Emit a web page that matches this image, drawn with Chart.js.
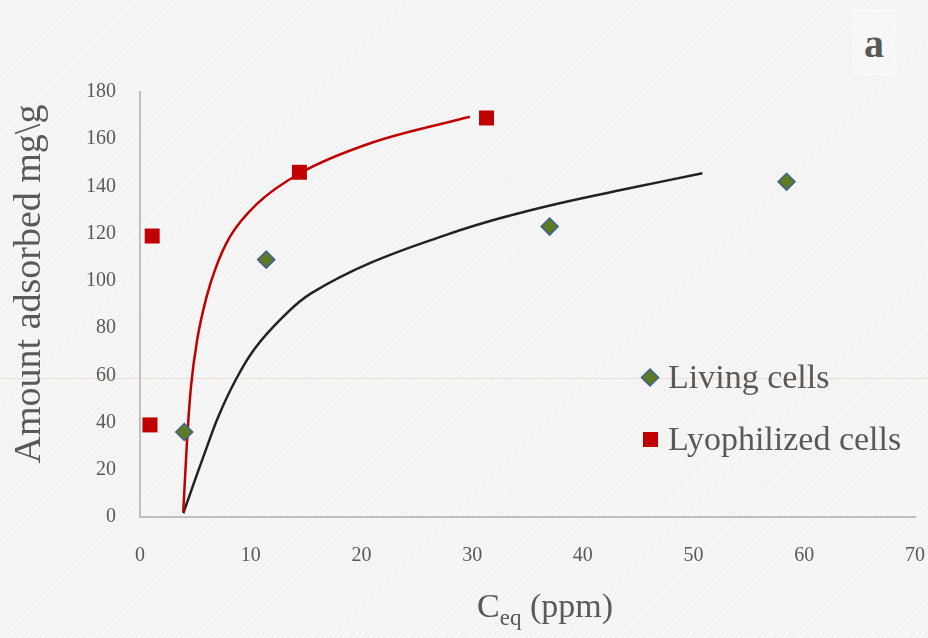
<!DOCTYPE html>
<html>
<head>
<meta charset="utf-8">
<script src="https://cdn.jsdelivr.net/npm/chart.js@4.4.1/dist/chart.umd.min.js"></script>
<style>
  html, body { margin: 0; padding: 0; }
  body {
    width: 928px; height: 638px; overflow: hidden; position: relative;
    background-color: #f3f3f3;
    background-image: repeating-linear-gradient(135deg, rgba(255,255,255,0.55) 0 1px, rgba(255,255,255,0) 1px 4px);
    font-family: "Liberation Serif", "DejaVu Serif", serif;
  }
  #wrap { position: absolute; left: 0; top: 0; width: 928px; height: 638px; }
  #stripe { position: absolute; left: 0; top: 378px; width: 928px; height: 1px; background: rgba(238, 200, 170, 0.55); }
  #tag {
    position: absolute; left: 853px; top: 10px; width: 42px; height: 65px;
    background: #f7f7f7; border: 1px solid #ffffff; box-sizing: border-box;
    color: #595959; font-weight: bold; font-size: 40px; line-height: 65px; text-align: center;
  }
  #xtitle {
    position: absolute; left: 0; width: 928px; top: 587px; text-align: center;
    color: #595959; font-size: 34px; line-height: 38px; padding-left: 162px; box-sizing: border-box;
  }
  #xtitle sub { font-size: 23px; vertical-align: -8px; }
</style>
</head>
<body>
<div id="stripe"></div>
<div id="wrap"><canvas id="myChart" width="928" height="638"></canvas></div>
<div id="tag">a</div>
<div id="xtitle">C<sub>eq</sub> (ppm)</div>
<script>
// datos
const livingX = [4.0, 11.4, 37.0, 58.4];
const livingY = [36, 109, 123, 142];
const lyoX = [0.9, 1.1, 14.4, 31.3];
const lyoY = [39, 119, 146, 169];

// curvas de ajuste (puntos leidos sobre la linea)
const livFitX = [3.91, 4.97, 6.03, 7.07, 8.58, 10.39, 13.1, 15.45, 20.75, 27.6, 32.5, 37.9, 44.3, 50.8];
const livFitY = [1.6, 15.7, 29.5, 42.5, 57.5, 71.5, 85.6, 94.7, 107.5, 119.4, 126.5, 132.9, 139.3, 145.6];
const lyoFitX = [3.91, 4.22, 4.6, 5.2, 6.0, 6.8, 8.13, 10.54, 14.45, 20.8, 29.8];
const lyoFitY = [2.2, 30, 55, 76, 93, 105, 118.7, 132.5, 145.6, 158.3, 169.5];

const legendLabels = ['Living cells', 'Lyophilized cells'];
const yTitle = 'Amount adsorbed mg\\g';
const xTicks = [0, 10, 20, 30, 40, 50, 60, 70];
const yTicks = [0, 20, 40, 60, 80, 100, 120, 140, 160, 180];

const toPts = (xs, ys) => xs.map((x, i) => ({ x: x, y: ys[i] }));

const textColor = '#595959';
const axisColor = '#bfbfbf';

// leyenda y titulo Y dibujados a mano
const legendPlugin = {
  id: 'customLegend',
  afterDraw(chart) {
    const ctx = chart.ctx;
    ctx.save();
    ctx.font = '34px "Liberation Serif", serif';
    ctx.fillStyle = textColor;
    ctx.textBaseline = 'alphabetic';
    ctx.fillText(legendLabels[0], 668, 388);
    ctx.fillText(legendLabels[1], 668, 450);
    // diamante
    ctx.beginPath();
    ctx.moveTo(650, 369); ctx.lineTo(658.5, 377.5); ctx.lineTo(650, 386); ctx.lineTo(641.5, 377.5); ctx.closePath();
    ctx.fillStyle = '#5f7a26'; ctx.fill();
    ctx.strokeStyle = '#41628f'; ctx.lineWidth = 1.5; ctx.stroke();
    // cuadrado
    ctx.fillStyle = '#c00000';
    ctx.fillRect(643, 432, 15, 15);
    // titulo eje y
    ctx.translate(30, 284);
    ctx.rotate(-Math.PI / 2);
    ctx.font = '38px "Liberation Serif", serif';
    ctx.fillStyle = textColor;
    ctx.textAlign = 'center';
    ctx.textBaseline = 'middle';
    ctx.fillText(yTitle, 0, 0);
    ctx.restore();
  }
};

const config = {
  type: 'scatter',
  data: {
    datasets: [
      {
        label: 'fitLyo',
        data: toPts(lyoFitX, lyoFitY),
        showLine: true,
        borderColor: '#c00000',
        borderWidth: 2.5,
        pointRadius: 0,
        cubicInterpolationMode: 'monotone',
        order: 3
      },
      {
        label: 'fitLiving',
        data: toPts(livFitX, livFitY),
        showLine: true,
        borderColor: '#222222',
        borderWidth: 2.5,
        pointRadius: 0,
        tension: 0.4,
        order: 3
      },
      {
        label: legendLabels[0],
        data: toPts(livingX, livingY),
        pointStyle: 'rectRot',
        pointRadius: 8.5,
        backgroundColor: '#5f7a26',
        borderColor: '#41628f',
        borderWidth: 1.5,
        order: 1
      },
      {
        label: legendLabels[1],
        data: toPts(lyoX, lyoY),
        pointStyle: 'rect',
        pointRadius: 10.6,
        backgroundColor: '#c00000',
        borderColor: '#c00000',
        borderWidth: 0,
        order: 1
      }
    ]
  },
  options: {
    responsive: false,
    animation: false,
    layout: { padding: { top: 92, right: 13, left: 0, bottom: 0 } },
    plugins: {
      legend: { display: false },
      tooltip: { enabled: false }
    },
    scales: {
      x: {
        type: 'linear',
        min: 0, max: 70,
        afterBuildTicks: (s) => { s.ticks = xTicks.map(v => ({ value: v })); },
        afterFit: (s) => { s.height = 121; },
        // el espacio bajo el eje va en tickLength (padding de ticks empuja el borde derecho)
        grid: { display: false, drawTicks: true, tickLength: 27 },
        border: { display: true, color: axisColor, width: 2 },
        ticks: { padding: 0, color: textColor, font: { family: '"Liberation Serif", serif', size: 20 } }
      },
      y: {
        type: 'linear',
        min: 0, max: 180,
        afterBuildTicks: (s) => { s.ticks = yTicks.map(v => ({ value: v })); },
        afterFit: (s) => { s.width = 140; },
        grid: { display: false, drawTicks: false },
        border: { display: true, color: axisColor, width: 2 },
        ticks: { padding: 24, color: textColor, font: { family: '"Liberation Serif", serif', size: 20 } }
      }
    }
  },
  plugins: [legendPlugin]
};

const myChart = new Chart(document.getElementById('myChart'), config);
</script>
</body>
</html>
